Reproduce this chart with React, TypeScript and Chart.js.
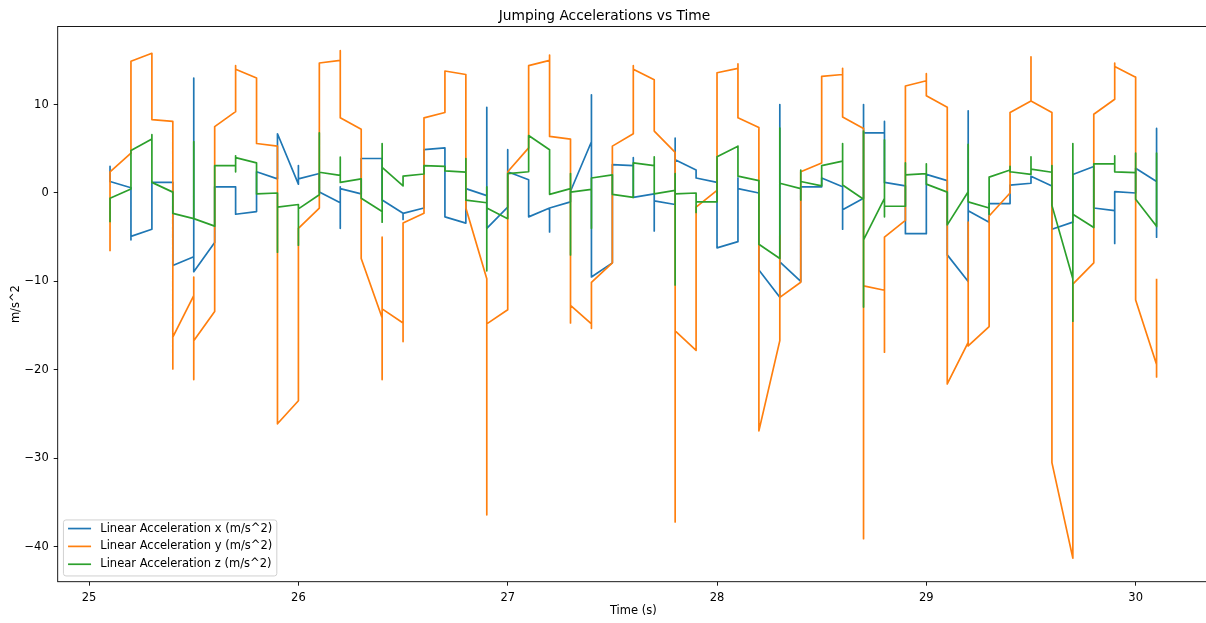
import React, { useEffect, useRef } from "react";
import { Chart, registerables } from "chart.js";

Chart.register(...registerables);

// Time stamps (s); each step holds several samples in recording order
const times = [
  25.1, 25.2, 25.3, 25.4, 25.5, 25.6, 25.7, 25.8, 25.9, 26.0,
  26.1, 26.2, 26.3, 26.4, 26.5, 26.6, 26.7, 26.8, 26.9, 27.0,
  27.1, 27.2, 27.3, 27.4, 27.5, 27.6, 27.7, 27.8, 27.9, 28.0,
  28.1, 28.2, 28.3, 28.4, 28.5, 28.6, 28.7, 28.8, 28.9, 29.0,
  29.1, 29.2, 29.3, 29.4, 29.5, 29.6, 29.7, 29.8, 29.9, 30.0,
  30.1,
];

const accelX = [
  [3.0, 1.3], [0.6, -5.3, -4.9], [-4.1, 1.2], [1.2, -8.2], [-7.2, 13.0, -8.9],
  [-5.6, 0.7], [0.7, -2.4], [-2.1, 2.4], [1.6, 6.7], [1.0, 3.1, 1.6],
  [2.2, 0.1], [-1.1, -4.0, 0.7, 0.5], [-0.1, 3.9], [3.9, -0.8], [-2.3, -3.0, -2.3],
  [-1.7, 4.9], [5.1, -2.7], [-3.4, 0.5], [-0.3, 9.7, -4.0], [-1.6, 4.9, 2.4],
  [1.5, -2.7], [-1.7, -4.4, -1.7], [-1.0, 0.2], [5.8, 11.1, -9.5], [-7.9, 3.2],
  [3.1, 4.0, -0.5], [-0.1, -4.3, -0.9], [-1.3, 6.2, 3.75], [2.6, 1.7], [1.2, -6.2],
  [-5.5, 1.7, 0.5], [0.0, -8.7], [-11.8, 10.0, -7.8], [-10.0, 0.7], [0.7, 1.7],
  [0.7, -4.1, -1.9], [-0.6, 10.0, 6.8], [6.8, 8.1, 1.2], [0.8, -4.6], [-4.6, 2.1],
  [1.4, -7.0], [-10.0, 9.3, -2.0], [-3.3, -1.2], [-1.2, 0.9], [1.1, 1.9],
  [0.8, -4.1], [-3.3, 2.1], [3.0, -1.7], [-2.0, -5.7, 0.15], [0.0, 2.8],
  [1.3, 7.3, -5.0],
];

const accelY = [
  [-6.6, 2.4], [4.5, 14.9], [15.8, 8.3], [8.1, -19.9, -16.3], [-11.6, -9.5, -21.1, -16.7],
  [-13.4, 7.5], [9.2, 14.4, 14.0], [13.0, 5.6], [5.3, -26.1], [-23.5, -4.0],
  [-1.7, 14.7], [15.0, 16.1, 8.5], [7.2, -7.4], [-14.1, -5.0, -21.1, -13.1], [-14.7, -16.8, -3.4],
  [-2.3, 8.5], [9.1, 13.8], [13.4, -1.7], [-9.7, -36.4, -14.8], [-13.2, 2.4],
  [5.1, 14.4], [15.0, 15.6, 6.4], [6.1, -14.7, -12.7], [-14.8, -15.3, -10.1], [-7.9, 5.3],
  [6.7, 14.4, 14.0], [12.8, 7.0], [4.6, -37.2, -15.6], [-17.8, -1.6], [0.3, 13.6],
  [14.1, 14.6, 8.5], [7.4, -26.9], [-16.7, -4.8, -11.8], [-10.1, 2.4], [3.4, 13.2],
  [13.4, 14.1, 8.6], [7.3, -39.1, -10.5], [-11.0, -18.0, -5.0], [-3.1, 12.1], [12.7, 13.5, 11.0],
  [9.7, -21.6], [-16.9, -3.3, -17.3], [-15.1, -2.6], [0.0, 9.1], [10.4, 15.4, 10.4],
  [9.1, -30.5], [-41.3, -10.3], [-7.9, 8.9], [10.6, 14.7, 14.3], [13.1, -12.1],
  [-19.4, -20.8, -9.7],
];

const accelZ = [
  [-3.3, -0.6], [0.45, 4.8], [6.1, 6.6, 1.2], [0.1, -2.3], [-2.9, 5.8, -2.9],
  [-3.75, 3.1], [3.1, 4.2, 2.4, 4.0], [3.4, -0.1], [0.0, -6.7, -1.6], [-1.3, -5.9, -1.8],
  [-0.2, 6.8, 2.35], [2.0, 4.05, 1.2], [1.6, -0.6], [-2.1, -3.3, 5.6, 2.9], [0.8, 1.9],
  [2.15, 3.1], [3.0, 2.5], [2.35, 3.9, -0.8], [-1.1, 0.7, -8.8, -1.7], [-2.9, 2.2],
  [2.4, 6.5], [4.9, -0.15], [0.5, 2.2, -7.0, 0.1], [0.4, 1.7, -4.0, 1.7], [2.05, -0.15],
  [-0.5, 3.4], [3.1, 4.1, -0.1], [0.3, 2.2, -10.4, -0.1], [0.0, -2.2, -1.0], [-1.0, 4.1],
  [5.3, 1.9], [1.4, -5.8], [-7.4, 7.35, 1.1], [0.5, 2.6, -0.8, 1.3], [0.8, 3.1],
  [3.6, 5.6, 0.9], [-0.7, 7.0, -12.9, -5.3], [-0.6, 6.0, -2.7, -1.5], [-1.5, 3.4, 2.05], [2.2, 3.3, 1.0],
  [0.1, -3.6], [0.15, 5.5, -1.0], [-1.7, -2.4, 1.8], [2.6, 3.0, 2.4], [2.1, 4.1, 2.7],
  [2.35, 3.1, -1.4], [-9.7, -14.5, 5.6, -2.4], [-3.9, 3.3], [3.3, 4.2, 2.4], [2.3, 4.5, -0.7],
  [-3.75, 4.5, -3.8],
];

const seriesLabels = [
  "Linear Acceleration x (m/s^2)",
  "Linear Acceleration y (m/s^2)",
  "Linear Acceleration z (m/s^2)",
];
const seriesColors = ["#1f77b4", "#ff7f0e", "#2ca02c"];

const xTicks = [25, 26, 27, 28, 29, 30];
const yTicks = [-40, -30, -20, -10, 0, 10];

const FONT = "'DejaVu Sans', sans-serif";
const FS = 11.5;

function toPoints(series: number[][]) {
  const pts: { x: number; y: number }[] = [];
  series.forEach((vals, i) => {
    vals.forEach((v) => pts.push({ x: times[i], y: v }));
  });
  return pts;
}

const fmt = (v: number) => (v < 0 ? "\u2212" + Math.abs(v) : String(v));

const spinesPlugin = {
  id: "spines",
  afterDatasetsDraw(chart: any) {
    const { ctx, chartArea } = chart;
    ctx.save();
    ctx.strokeStyle = "#000";
    ctx.lineWidth = 0.9;
    ctx.strokeRect(
      chartArea.left,
      chartArea.top,
      chartArea.right - chartArea.left,
      chartArea.bottom - chartArea.top
    );
    ctx.restore();
  },
};

const legendPlugin = {
  id: "mplLegend",
  afterDraw(chart: any) {
    const { ctx, chartArea } = chart;
    const datasets = chart.data.datasets;
    ctx.save();
    ctx.font = `${FS}px ${FONT}`;
    let maxW = 0;
    datasets.forEach((d: any) => {
      maxW = Math.max(maxW, ctx.measureText(d.label).width);
    });
    const pad = 0.4 * FS;
    const handle = 2 * FS;
    const gap = 0.8 * FS;
    const rowH = 17.85;
    const w = pad + handle + gap + maxW + pad;
    const h = 56;
    const x0 = chartArea.left + 0.5 * FS;
    const y0 = chartArea.bottom - 0.5 * FS - h;
    const r = 2.5;
    ctx.beginPath();
    ctx.moveTo(x0 + r, y0);
    ctx.lineTo(x0 + w - r, y0);
    ctx.arcTo(x0 + w, y0, x0 + w, y0 + r, r);
    ctx.lineTo(x0 + w, y0 + h - r);
    ctx.arcTo(x0 + w, y0 + h, x0 + w - r, y0 + h, r);
    ctx.lineTo(x0 + r, y0 + h);
    ctx.arcTo(x0, y0 + h, x0, y0 + h - r, r);
    ctx.lineTo(x0, y0 + r);
    ctx.arcTo(x0, y0, x0 + r, y0, r);
    ctx.closePath();
    ctx.fillStyle = "rgba(255,255,255,0.8)";
    ctx.fill();
    ctx.strokeStyle = "#cccccc";
    ctx.lineWidth = 0.9;
    ctx.stroke();
    datasets.forEach((d: any, i: number) => {
      const cy = y0 + 8.6 + i * rowH;
      ctx.beginPath();
      ctx.strokeStyle = d.borderColor;
      ctx.lineWidth = 1.7;
      ctx.moveTo(x0 + pad, cy);
      ctx.lineTo(x0 + pad + handle, cy);
      ctx.stroke();
      ctx.fillStyle = "#000";
      ctx.textBaseline = "middle";
      ctx.textAlign = "left";
      ctx.fillText(d.label, x0 + pad + handle + gap, cy);
    });
    ctx.restore();
  },
};

export default function App() {
  const ref = useRef<HTMLCanvasElement | null>(null);

  useEffect(() => {
    if (!ref.current) return;
    const all = [accelX, accelY, accelZ];
    const chart = new Chart(ref.current, {
      type: "line",
      data: {
        datasets: all.map((s, i) => ({
          label: seriesLabels[i],
          data: toPoints(s),
          borderColor: seriesColors[i],
          backgroundColor: seriesColors[i],
          borderWidth: 1.7,
          pointRadius: 0,
          pointHoverRadius: 0,
          tension: 0,
          fill: false,
          borderJoinStyle: "round",
          order: 3 - i,
        })),
      },
      options: {
        animation: false,
        responsive: false,
        devicePixelRatio: 1,
        events: [],
        layout: { padding: { left: 0, right: 1.1, top: 0, bottom: 0 } },
        plugins: {
          legend: { display: false },
          tooltip: { enabled: false },
          title: {
            display: true,
            text: "Jumping Accelerations vs Time",
            color: "#000",
            font: { family: FONT, size: 13.8, weight: "normal", lineHeight: 1.2 },
            padding: { top: 7.7, bottom: 2.24 },
          },
        },
        scales: {
          x: {
            type: "linear",
            min: 24.85,
            max: 30.35,
            afterBuildTicks: (scale: any) => {
              scale.ticks = xTicks.map((v) => ({ value: v }));
            },
            afterFit: (scale: any) => {
              scale.height = 41.3;
            },
            ticks: {
              color: "#000",
              font: { family: FONT, size: FS },
              padding: 5,
              maxRotation: 0,
              autoSkip: false,
              callback: (v: any) => fmt(Number(v)),
            },
            grid: {
              display: true,
              drawOnChartArea: false,
              drawTicks: true,
              tickLength: 4,
              color: "#000",
              lineWidth: 0.9,
            },
            border: { display: false },
            title: {
              display: true,
              text: "Time (s)",
              color: "#000",
              font: { family: FONT, size: FS, lineHeight: 1.2 },
              padding: { top: 0, bottom: 5 },
            },
          },
          y: {
            type: "linear",
            min: -43.96,
            max: 18.83,
            afterBuildTicks: (scale: any) => {
              scale.ticks = yTicks.map((v) => ({ value: v }));
            },
            afterFit: (scale: any) => {
              scale.width = 57.7;
            },
            ticks: {
              color: "#000",
              font: { family: FONT, size: FS },
              padding: 5,
              autoSkip: false,
              callback: (v: any) => fmt(Number(v)),
            },
            grid: {
              display: true,
              drawOnChartArea: false,
              drawTicks: true,
              tickLength: 4,
              color: "#000",
              lineWidth: 0.9,
            },
            border: { display: false },
            title: {
              display: true,
              text: "m/s^2",
              color: "#000",
              font: { family: FONT, size: FS, lineHeight: 1.2 },
              padding: { top: 9, bottom: 0 },
            },
          },
        },
      } as any,
      plugins: [spinesPlugin, legendPlugin],
    });
    return () => chart.destroy();
  }, []);

  return (
    <div
      style={{
        position: "fixed",
        left: 0,
        top: 0,
        width: 1206,
        height: 623,
        overflow: "hidden",
        background: "#fff",
      }}
    >
      <canvas
        ref={ref}
        width={1210}
        height={623}
        style={{ display: "block", width: 1210, height: 623 }}
      />
    </div>
  );
}
